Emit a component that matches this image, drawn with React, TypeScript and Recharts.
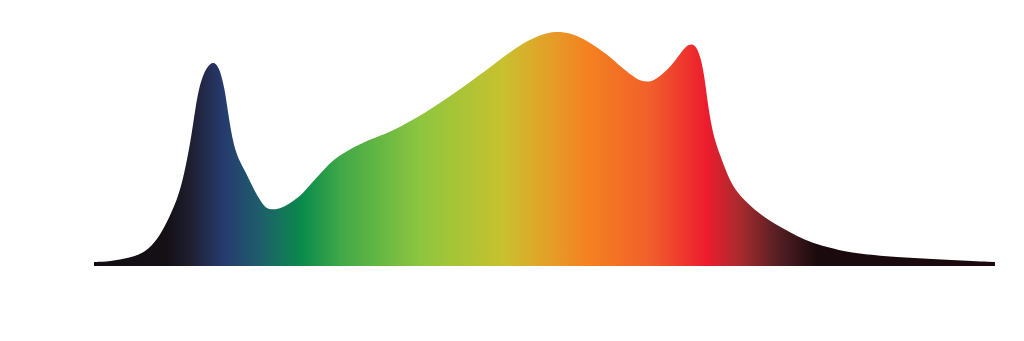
import { AreaChart, Area, XAxis, YAxis } from 'recharts';

// wavelength (nm) and relative intensity (%)
const wavelengths = [
  380, 387, 396, 403, 408, 412, 417, 420, 423, 425, 427, 430, 433, 435.5, 438, 439.5, 442,
  445, 448, 451, 454, 456, 459.5, 463.5, 468, 473, 477, 482, 486, 493, 499, 507, 516, 527,
  537, 547, 556, 563, 569, 576, 582, 587, 593.5, 600, 607, 613.5, 619, 623, 628, 632, 637,
  641, 644, 647, 649, 651, 652.5, 655, 658, 661, 664.5, 670, 676.5, 684.5, 692, 699, 707,
  714, 729, 744, 760, 780,
];
const intensity = [
  1.7, 1.9, 3.4, 6, 11.1, 17.9, 28.2, 38.9, 53.8, 67.5, 78.2, 85.2, 87.6, 85.2, 76.1, 65.4, 50.9,
  44, 38.9, 32.5, 27.8, 24.8, 23.9, 24.8, 27.4, 31.2, 35.9, 41, 45.3, 49.6, 52.6, 55.6, 59.4, 65.4,
  71.8, 78.6, 85, 90.2, 94.4, 97.9, 99.8, 100.3, 98.9, 95.7, 91, 85.5, 81.2, 78.7, 78.7, 81.6, 86.3,
  91.8, 95, 94.6, 90.2, 81.6, 68.8, 55.1, 47.4, 39.3, 32.5, 26.9, 21.4, 16.7, 12.8, 9.8, 7.7,
  6, 4.3, 3.4, 2.6, 1.7,
];

const stops = [
  { at: 0, color: '#120b12' },
  { at: 0.081, color: '#141016' },
  { at: 0.107, color: '#1e1e30' },
  { at: 0.143, color: '#263a6e' },
  { at: 0.181, color: '#1f5a6c' },
  { at: 0.232, color: '#0a8c4b' },
  { at: 0.273, color: '#3fa847' },
  { at: 0.362, color: '#8dc63f' },
  { at: 0.454, color: '#c8c12e' },
  { at: 0.5, color: '#e2a229' },
  { at: 0.547, color: '#f58220' },
  { at: 0.617, color: '#f15f2a' },
  { at: 0.68, color: '#ec1c2e' },
  { at: 0.717, color: '#a82b2e' },
  { at: 0.756, color: '#5a2024' },
  { at: 0.802, color: '#1a0a0e' },
  { at: 1, color: '#1a0a0e' },
];

const data = wavelengths.map((wl, i) => ({ wl, v: intensity[i] }));

export default function App() {
  return (
    <div style={{ width: 1008, height: 325 }}>
      <AreaChart width={1008} height={325} data={data} margin={{ top: 24, right: 21, bottom: 67, left: 86 }}>
        <defs>
          <linearGradient id="spectrum" x1="0" y1="0" x2="1" y2="0">
            {stops.map((s) => (
              <stop key={s.at} offset={s.at} stopColor={s.color} />
            ))}
          </linearGradient>
        </defs>
        <XAxis dataKey="wl" type="number" domain={[380, 780]} hide />
        <YAxis domain={[0, 100]} hide allowDataOverflow />
        <Area
          type="basis"
          dataKey="v"
          stroke="none"
          fill="url(#spectrum)"
          fillOpacity={1}
          dot={false}
          activeDot={false}
          isAnimationActive={false}
        />
      </AreaChart>
    </div>
  );
}
